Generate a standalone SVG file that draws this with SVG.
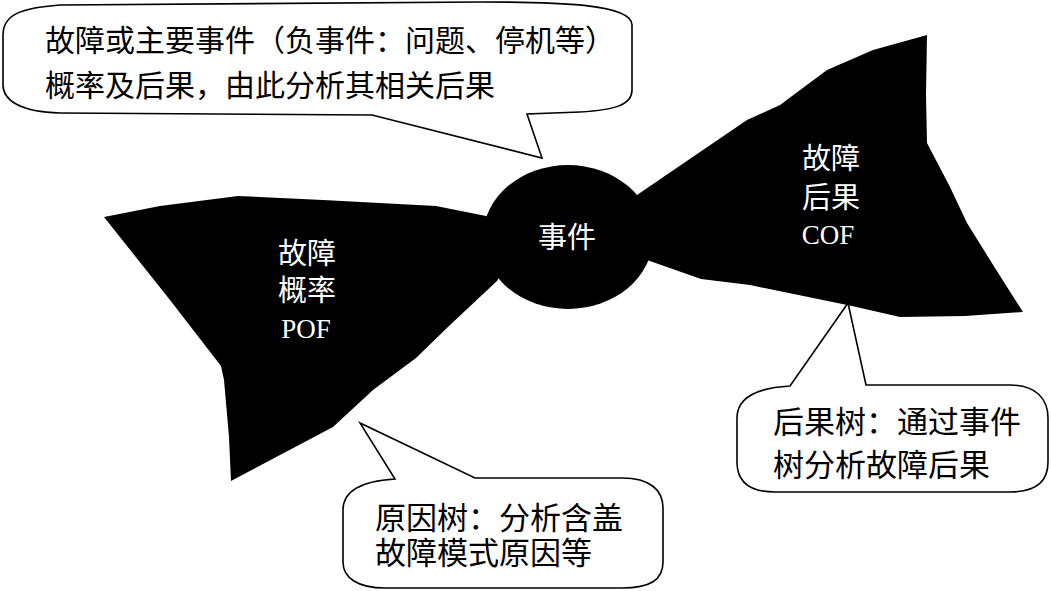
<svg xmlns="http://www.w3.org/2000/svg" width="1051" height="591" viewBox="0 0 1051 591">
<style>
.bubble{fill:#fff;stroke:#000;stroke-width:1.6;stroke-linejoin:miter}
.blk{fill:#000;stroke:none}
.cjk{font-family:"Noto Sans CJK SC","Noto Sans CJK JP",sans-serif;fill:#000}
.wt{font-family:"Noto Sans CJK SC","Noto Sans CJK JP",sans-serif;fill:#fff;font-size:29px;text-anchor:middle}
.lat{font-family:"Liberation Serif",serif;fill:#fff;font-size:27px;text-anchor:middle}
</style>
<rect width="1051" height="591" fill="#fff"/>
<g id="connectors"></g>
<g id="callout-top">
<path class="bubble" d="M 3,35 C 3,15 20,8 60,5 L 480,2 C 560,2 632,4 632,25 L 632,90 C 632,105 615,110 580,112 L 527,114 L 542,158 L 372,115 L 60,113 C 20,112 3,100 3,85 Z"/>
<text class="cjk" font-size="30" x="45" y="51">故障或主要事件（负事件：问题、停机等）</text>
<text class="cjk" font-size="30" x="45" y="96">概率及后果，由此分析其相关后果</text>
</g>
<g id="callout-cause">
<path class="bubble" d="M 343,510 C 343,490 362,481 395,479 L 360,423 L 475,478 L 622,478 C 650,478 663,490 663,508 L 663,562 C 663,580 650,588 622,588 L 385,588 C 358,588 343,578 343,562 Z"/>
<text class="cjk" font-size="31" x="375" y="529">原因树：分析含盖</text>
<text class="cjk" font-size="31" x="375" y="564">故障模式原因等</text>
</g>
<g id="callout-consequence">
<path class="bubble" d="M 737,418 C 737,398 755,388 790,386 L 848,303 L 866,385 L 1010,385 C 1035,385 1048,398 1048,418 L 1048,462 C 1048,482 1035,492 1010,492 L 775,492 C 750,492 737,482 737,462 Z"/>
<text class="cjk" font-size="31" x="773" y="433">后果树：通过事件</text>
<text class="cjk" font-size="31" x="773" y="476">树分析故障后果</text>
</g>
<g id="pof">
<path class="blk" d="M 104,217 L 160,206 L 238,196 L 323,200 L 436,206 L 486,216 L 520,240 L 497,281 L 450,325 L 416,358 L 373,390 L 333,427 L 231,481 L 229,437 L 224,380 L 221,366 L 170,300 Z"/>
<text class="wt" x="307" y="264">故障</text>
<text class="wt" x="307" y="301">概率</text>
<text class="lat" x="306" y="338">POF</text>
</g>
<g id="cof">
<path class="blk" d="M 620,210 L 637,195 L 700,152 L 747,120 L 780,105 L 827,70 L 873,50 L 927,35 L 926,95 L 927,143 L 950,187 L 967,223 L 995,268 L 1023,312 L 965,316 L 900,317 L 852,306 L 750,285 L 701,279 L 647,260 L 610,250 Z"/>
<text class="wt" x="831" y="169">故障</text>
<text class="wt" x="831" y="208">后果</text>
<text class="lat" x="828" y="244">COF</text>
</g>
<g id="event">
<ellipse class="blk" cx="568" cy="237" rx="85" ry="72"/>
<text class="wt" x="567" y="248">事件</text>
</g>
</svg>
